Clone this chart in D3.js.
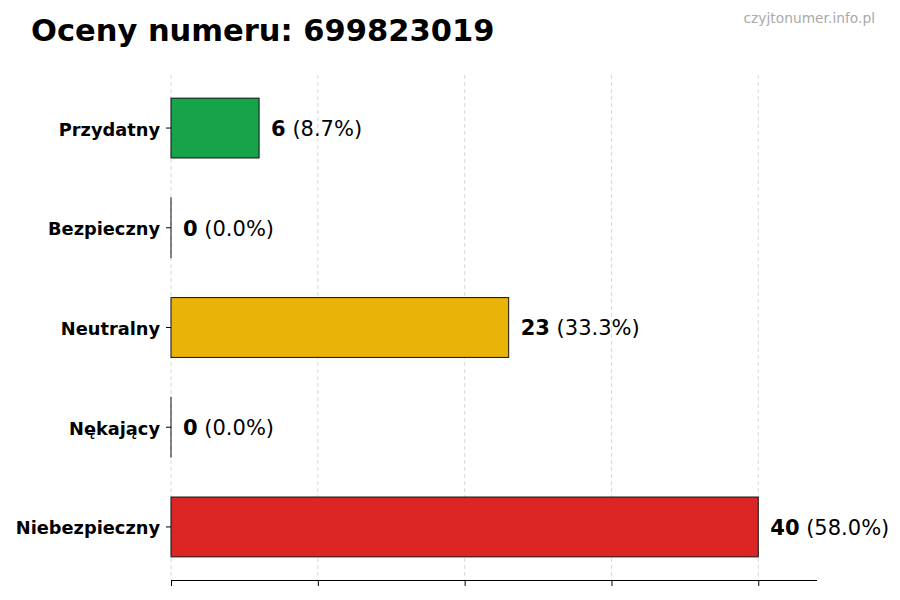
<!DOCTYPE html>
<html><head><meta charset="utf-8">
<script src="https://cdn.jsdelivr.net/npm/d3@7"></script>
<style>body{margin:0;background:#fff}svg{display:block}</style>
</head><body>
<svg id="c" width="900" height="600"></svg>
<script>
const categories = ["Przydatny","Bezpieczny","Neutralny","Nękający","Niebezpieczny"];
const values = [6,0,23,0,40];
const percents = ["8.7%","0.0%","33.3%","0.0%","58.0%"];
const colors = ["#16a34a","#16a34a","#eab308","#dc2626","#dc2626"];
const xTicks = [0,10,20,30,40];
const title = "Oceny numeru: 699823019";
const watermark = "czyjtonumer.info.pl";

(function(){
const svg = d3.select("#c");
const font = "DejaVu Sans, sans-serif";
const mL = 171, mR = 817, mT = 75, mB = 580;
const x = d3.scaleLinear().domain([0,44]).range([mL,mR]);
const y = d3.scaleBand().domain(categories).range([mT,mB]).paddingInner(0.4).paddingOuter(0.232);

svg.append("g").selectAll("line").data(xTicks).join("line")
  .attr("x1",d=>x(d)).attr("x2",d=>x(d)).attr("y1",mT).attr("y2",mB)
  .attr("stroke","#d0d0d0").attr("stroke-width",0.8).attr("stroke-dasharray","4,3");

svg.append("g").selectAll("rect").data(categories).join("rect")
  .attr("x",x(0)).attr("y",d=>y(d)).attr("height",y.bandwidth())
  .attr("width",(d,i)=>Math.max(x(values[i])-x(0),0.01))
  .attr("fill",(d,i)=>colors[i]).attr("stroke","#111").attr("stroke-width",1);

const lbl = svg.append("g").selectAll("text").data(categories).join("text")
  .attr("x",(d,i)=>x(values[i])+12).attr("y",d=>y(d)+y.bandwidth()/2+0.5)
  .attr("dy","0.35em").attr("font-family",font).attr("font-size",21).attr("fill","#000");
lbl.append("tspan").attr("font-weight","bold").text((d,i)=>values[i]);
lbl.append("tspan").text((d,i)=>" ("+percents[i]+")");

const ya = svg.append("g").attr("transform",`translate(${mL},0)`)
  .call(d3.axisLeft(y).tickSize(5).tickPadding(6));
ya.select(".domain").remove();
ya.selectAll("text").attr("font-family",font).attr("font-size",17.8).attr("font-weight","bold")
  .attr("fill","#000").attr("dy","0.42em");
ya.selectAll("line").attr("stroke","#000");

const xa = svg.append("g").attr("transform",`translate(0,${mB})`)
  .call(d3.axisBottom(x).tickValues(xTicks).tickSize(6).tickFormat(""));
xa.select(".domain").attr("d",`M${mL},0.5H${mR}`).attr("stroke","#000").attr("stroke-width",1.2);
xa.selectAll("line").attr("stroke","#000");

svg.append("text").attr("x",31).attr("y",41).attr("font-family",font).attr("font-size",30.5)
  .attr("font-weight","bold").attr("fill","#000").text(title);
svg.append("text").attr("x",875).attr("y",23).attr("text-anchor","end").attr("font-family",font)
  .attr("font-size",13.8).attr("fill","#aaa").text(watermark);
})();
</script>
</body></html>
